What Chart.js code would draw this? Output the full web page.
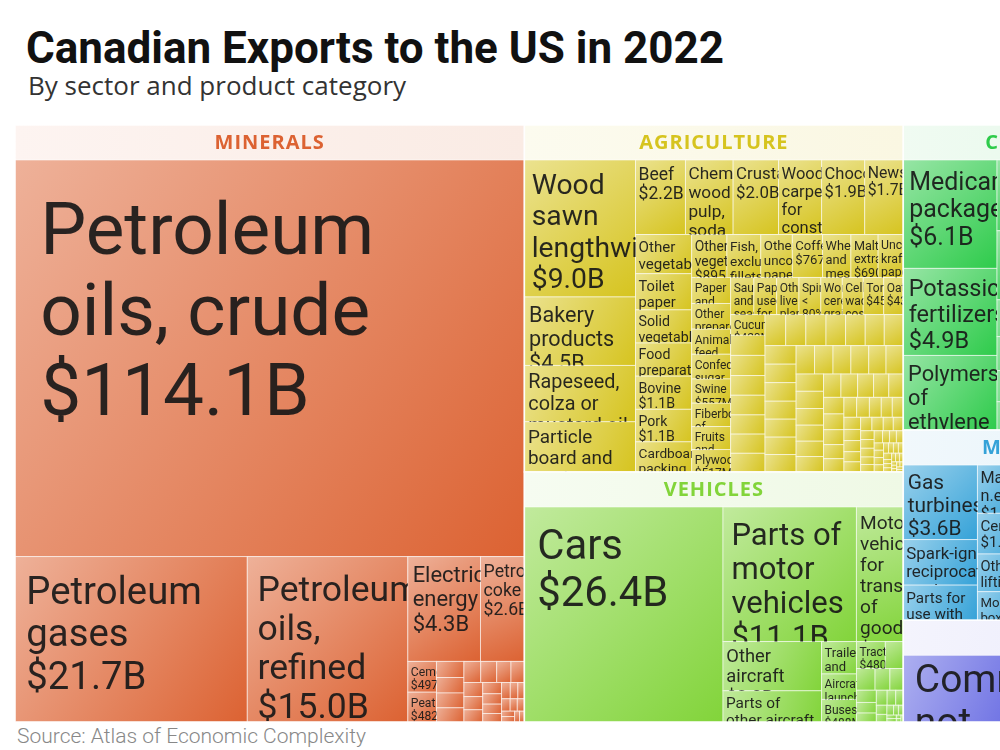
<!DOCTYPE html>
<html>
<head>
<meta charset="utf-8">
<script src="https://cdn.jsdelivr.net/npm/chart.js@4"></script>
<style>
body{margin:0;width:1000px;height:750px;overflow:hidden;background:#fff;position:relative;font-family:Roboto,sans-serif}
#title{position:absolute;left:26px;top:26px;font-size:44px;line-height:44px;font-weight:700;color:#111;white-space:nowrap}
#subtitle{position:absolute;left:28px;top:72px;font-family:'Open Sans',sans-serif;font-size:26px;line-height:26px;color:#333;white-space:nowrap}
#wrap{position:absolute;left:15px;top:125px;width:1175px;height:597px}
#source{position:absolute;left:17px;top:726px;font-size:21px;line-height:21px;font-weight:300;color:#888;white-space:nowrap}
</style>
</head>
<body>
<div id="title">Canadian Exports to the US in 2022</div>
<div id="subtitle">By sector and product category</div>
<div id="wrap"><canvas id="chart" width="1175" height="597"></canvas></div>
<div id="source">Source: Atlas of Economic Complexity</div>
<script>
// values in billions of US dollars
const sectorNames = ["MINERALS","AGRICULTURE","VEHICLES","CHEMICALS","MACHINERY","OTHER"];
const sectorColors = ["#dc6232","#d6c41f","#82d43a","#2ecb4b","#35a2d8","#5b5fe0"];

const mineralProducts = ["Petroleum oils, crude","Petroleum gases","Petroleum oils, refined","Electrical energy","Petroleum coke","Cement","Peat"];
const mineralValues = [114.1,21.7,15.0,4.3,2.6,0.497,0.482];
const mineralSmall = [0.25,0.24,0.23,0.22,0.2,0.19,0.17,0.16,0.15,0.14,0.13,0.12,0.11,0.1,0.09,0.08,0.07,0.06,0.06,0.05,0.05,0.04,0.04,0.03,0.03];

const agriProducts = ["Wood sawn lengthwise","Bakery products","Rapeseed, colza or mustard oil","Particle board and similar board",
  "Beef","Chemical wood pulp, soda or sulphate","Crustaceans","Wood carpentry for construction","Chocolate","Newsprint",
  "Other vegetables, fresh or chilled","Toilet paper","Solid vegetable fats","Food preparations","Bovine","Pork","Cardboard packing containers",
  "Other vegetables","Fish, excluding fillets","Other uncoated paper","Coffee","Wheat and meslin","Malt extract","Uncoated kraft paper",
  "Paper and paperboard","Other prepared meat","Animal feed","Confectionery sugar","Swine","Fiberboard of wood","Fruits and nuts","Plywood",
  "Sauces and seasonings","Paper used for writing","Other live plants","Spirits < 80%","Worked cereal grains","Cellulose wadding cosmetics","Tortillas","Oats",
  "Cucumbers"];
const agriValues = [9.0,4.5,3.7,3.3,
  2.2,2.1,2.0,1.9,1.9,1.7,
  1.3,1.2,1.1,1.1,1.1,1.08,1.0,
  0.895,0.86,0.8,0.767,0.72,0.69,0.64,
  0.6,0.59,0.58,0.57,0.557,0.54,0.53,0.517,
  0.51,0.5,0.49,0.48,0.47,0.46,0.45,0.43,
  0.42];
const agriSmall = [0.41,0.41,0.40,0.40,0.39,0.39,0.38,0.38,0.37,0.37,
  0.36,0.36,0.35,0.35,0.34,0.34,0.34,0.33,0.33,0.32,0.32,
  0.31,0.31,0.30,0.30,0.29,0.29,0.28,0.28,0.27,0.26,0.25,0.25,
  0.24,0.23,0.22,0.21,0.20,0.20,0.19,0.18,0.17,0.16,
  0.15,0.15,0.14,0.13,0.13,0.12,0.11,0.11,0.10,0.10,
  0.09,0.09,0.08,0.08,0.07,0.07,0.07,0.06,0.06,0.06,
  0.05,0.05,0.05,0.04,0.04,0.04,0.04,0.03,0.03,0.03,
  0.03,0.03,0.02,0.02,0.02,0.02,0.02,0.02,0.01,0.01,
  0.01,0.01,0.01,0.01,0.01];

const vehicleProducts = ["Cars","Parts of motor vehicles","Motor vehicles for transport of goods","Other aircraft","Parts of other aircraft",
  "Trailers and semi-trailers","Aircraft launching gear","Buses","Tractors"];
const vehicleValues = [26.4,11.1,3.9,3.0,1.9,0.7,0.55,0.488,0.48];
const vehicleSmall = [0.3,0.25,0.2,0.18,0.15,0.13,0.11,0.1,0.08,0.07,0.06,0.05,0.04,0.03,0.03,0.02,0.02,0.01,0.01,0.01];

const chemProducts = ["Medicaments, packaged","Potassic fertilizers","Polymers of ethylene"];
const chemValues = [6.1,4.9,4.2];
const chemSmall = [2.2,2.1,2.0,1.9,1.8,1.7,1.6,1.5,1.4,1.3,1.2,1.1,1.0,0.95,0.9,0.85,0.8,0.75,0.7,0.65,0.6,0.6,0.55,0.5,0.45,0.45,0.4,0.35,0.3,0.25,0.2,0.15,0.1];

const machProducts = ["Gas turbines","Spark-ignition reciprocating engines","Parts for use with engines","Machines n.e.s.","Centrifuges","Other lifting machinery","Moulding boxes"];
const machValues = [3.6,2.2,1.7,1.6,1.35,1.25,0.95];
const machSmall = [0.9,0.88,0.85,0.82,0.8,0.78,0.75,0.72,0.7,0.68,0.65,0.62,0.6,0.57,0.55,0.52,0.5,0.5,0.5,0.47,0.45,0.42,0.4,0.37,0.35,0.32,0.3,0.28,0.1];

const otherProducts = ["Commodities not specified according to kind","Seats","Other furniture","Toys","Light fixtures"];
const otherValues = [8.0,2.5,2.0,1.2,1.0];
const otherSmall = [0.5,0.3];

const W = 1175, H = 597, HEADER = 35;
const PHI = (1 + Math.sqrt(5)) / 2;

function makeChildren(names, values, small){
    const list = names.map((n, i) => ({label: n, value: values[i]}));
    small.forEach(v => list.push({label: null, value: v}));
    return list.sort((a, b) => b.value - a.value);
}

const sectors = [
    makeChildren(mineralProducts, mineralValues, mineralSmall),
    makeChildren(agriProducts, agriValues, agriSmall),
    makeChildren(vehicleProducts, vehicleValues, vehicleSmall),
    makeChildren(chemProducts, chemValues, chemSmall),
    makeChildren(machProducts, machValues, machSmall),
    makeChildren(otherProducts, otherValues, otherSmall)
].map((children, i) => ({
    name: sectorNames[i],
    color: sectorColors[i],
    children: children,
    value: children.reduce((s, d) => s + d.value, 0)
}));

// squarified layout, same steps as d3.treemapSquarify
function squarify(nodes, x0, y0, x1, y1, ratio){
    let value = nodes.reduce((s, d) => s + d.value, 0);
    let i0 = 0, i1 = 0;
    const n = nodes.length;
    while(i0 < n){
        const dx = x1 - x0, dy = y1 - y0;
        let sumValue = nodes[i1++].value;
        let minValue = sumValue, maxValue = sumValue;
        const alpha = Math.max(dy / dx, dx / dy) / (value * ratio);
        let beta = sumValue * sumValue * alpha;
        let minRatio = Math.max(maxValue / beta, beta / minValue);
        for(; i1 < n; ++i1){
            const nv = nodes[i1].value;
            sumValue += nv;
            if(nv < minValue) minValue = nv;
            if(nv > maxValue) maxValue = nv;
            beta = sumValue * sumValue * alpha;
            const newRatio = Math.max(maxValue / beta, beta / minValue);
            if(newRatio > minRatio){ sumValue -= nv; break; }
            minRatio = newRatio;
        }
        const row = nodes.slice(i0, i1);
        if(dx < dy){
            const yb = y0 + dy * sumValue / value;
            let x = x0;
            row.forEach(d => {
                const w = dx * d.value / sumValue;
                d.x0 = x; d.x1 = x + w; d.y0 = y0; d.y1 = yb; x += w;
            });
            y0 = yb;
        }else{
            const xb = x0 + dx * sumValue / value;
            let y = y0;
            row.forEach(d => {
                const h = dy * d.value / sumValue;
                d.x0 = x0; d.x1 = xb; d.y0 = y; d.y1 = y + h; y += h;
            });
            x0 = xb;
        }
        value -= sumValue;
        i0 = i1;
    }
}

squarify(sectors, 0, 0, W, H, 1);
sectors.forEach(s => squarify(s.children, s.x0, s.y0 + HEADER, s.x1, s.y1, PHI));

function mix(hex, t){
    const n = parseInt(hex.slice(1), 16);
    const r = n >> 16, g = (n >> 8) & 255, b = n & 255;
    return `rgb(${Math.round(r + (255 - r) * t)},${Math.round(g + (255 - g) * t)},${Math.round(b + (255 - b) * t)})`;
}

function formatValue(v){
    return v >= 1 ? "$" + v.toFixed(1) + "B" : "$" + Math.round(v * 1000) + "M";
}

function drawLabel(ctx, d, l, t, w, h){
    if(!d.label || w < 12 || h < 12) return;
    let fs = Math.max(12, 0.5 * (8 + 0.17 * Math.min(w, h)) + 0.6 * Math.cbrt(w * h));
    let padTop = null;
    // wide, low cells get a bigger type than their height alone would give
    if(w > 2 * h && h >= 60){
        fs = Math.max(fs, 0.45 * h + 0.06 * w);
        padTop = 0;
    }
    const pad = Math.max(3, 0.4 * fs - 4);
    if(padTop === null) padTop = pad;
    ctx.font = `400 ${fs}px Roboto`;
    const lines = [];
    let line = "";
    d.label.split(" ").forEach(word => {
        const test = line ? line + " " + word : word;
        if(line && ctx.measureText(test).width > w - 2 * pad){
            lines.push(line);
            line = word;
        }else{
            line = test;
        }
    });
    if(line) lines.push(line);
    lines.push(formatValue(d.value));

    ctx.save();
    ctx.beginPath();
    ctx.rect(l, t, w, h);
    ctx.clip();
    ctx.fillStyle = "rgba(24,24,24,0.92)";
    ctx.textBaseline = "alphabetic";
    ctx.textAlign = "left";
    lines.forEach((s, i) => ctx.fillText(s, l + pad, t + padTop + 0.95 * fs + i * 1.1 * fs));
    ctx.restore();
}

const treemapPlugin = {
    id: "treemap",
    afterDraw(chart){
        const ctx = chart.ctx;
        const xs = chart.scales.x, ys = chart.scales.y;
        const X = v => xs.getPixelForValue(v);
        const Y = v => ys.getPixelForValue(v);

        sectors.forEach(s => {
            // header band
            const hl = X(s.x0), ht = Y(s.y0), hr = X(s.x1), hb = Y(s.y0 + HEADER);
            const hg = ctx.createLinearGradient(hl, ht, hr, hb);
            hg.addColorStop(0, mix(s.color, 0.93));
            hg.addColorStop(1, mix(s.color, 0.87));
            ctx.fillStyle = hg;
            ctx.fillRect(hl, ht, hr - hl, hb - ht);
            ctx.save();
            ctx.font = "700 20px 'Open Sans'";
            ctx.letterSpacing = "1px";
            ctx.fillStyle = s.color;
            ctx.textAlign = "center";
            ctx.textBaseline = "middle";
            ctx.fillText(s.name, (hl + hr) / 2, (ht + hb) / 2 + 1);
            ctx.restore();

            s.children.forEach(d => {
                const l = X(d.x0), t = Y(d.y0), r = X(d.x1), b = Y(d.y1);
                const g = ctx.createLinearGradient(l, t, r, b);
                g.addColorStop(0, mix(s.color, 0.5));
                g.addColorStop(1, s.color);
                ctx.fillStyle = g;
                ctx.fillRect(l, t, r - l, b - t);
                ctx.strokeStyle = "rgba(255,255,255,0.55)";
                ctx.lineWidth = 1;
                ctx.strokeRect(l, t, r - l, b - t);
            });
            s.children.forEach(d => {
                const l = X(d.x0), t = Y(d.y0), r = X(d.x1), b = Y(d.y1);
                drawLabel(ctx, d, l, t, r - l, b - t);
            });

            ctx.strokeStyle = "rgba(255,255,255,0.9)";
            ctx.lineWidth = 1.5;
            ctx.strokeRect(hl, ht, hr - hl, Y(s.y1) - ht);
        });
    }
};

new Chart(document.getElementById("chart"), {
    type: "scatter",
    data: {datasets: []},
    options: {
        responsive: false,
        animation: false,
        events: [],
        layout: {padding: 0},
        plugins: {legend: {display: false}, tooltip: {enabled: false}},
        scales: {
            x: {type: "linear", min: 0, max: W, display: false},
            y: {type: "linear", min: 0, max: H, reverse: true, display: false}
        }
    },
    plugins: [treemapPlugin]
});
</script>
</body>
</html>
